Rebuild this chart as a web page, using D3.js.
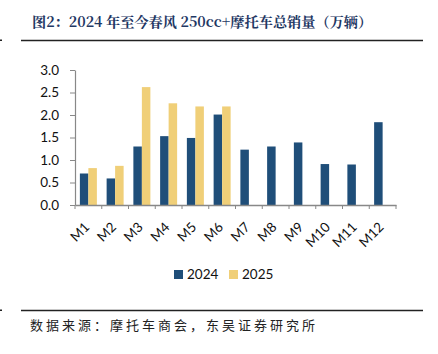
<!DOCTYPE html>
<html><head><meta charset="utf-8">
<script src="https://cdn.jsdelivr.net/npm/d3@7"></script>
<style>body{margin:0;background:#fff;} svg{display:block;}</style>
</head><body>
<script>
const categories = ["M1","M2","M3","M4","M5","M6","M7","M8","M9","M10","M11","M12"];
const seriesNames = ["2024","2025"];
const values2024 = [0.70,0.59,1.30,1.53,1.49,2.01,1.23,1.30,1.39,0.91,0.90,1.84];
const values2025 = [0.82,0.87,2.62,2.26,2.19,2.19,null,null,null,null,null,null];
const yTicks = [0,0.5,1.0,1.5,2.0,2.5,3.0];
const colors = ["#1f4e79","#f0cf78"];
const titleText = "图2：2024 年至今春风 250cc+摩托车总销量（万辆）";
const sourceText = "数据来源：摩托车商会，东吴证券研究所";

const W=438,H=354;
const svg=d3.select("body").append("svg").attr("width",W).attr("height",H);

// title & rules
svg.append("text").attr("x",32).attr("y",27).text(titleText)
  .attr("font-family","'Noto Serif CJK SC','Noto Sans CJK SC',serif").attr("font-weight","bold")
  .attr("font-size",14.2).attr("fill","#1f3864");
svg.append("line").attr("x1",21).attr("x2",423).attr("y1",40.5).attr("y2",40.5).attr("stroke","#222").attr("stroke-width",1.5);
svg.append("rect").attr("x",0).attr("y",39.5).attr("width",2).attr("height",1.5).attr("fill","#222");
svg.append("line").attr("x1",21).attr("x2",423).attr("y1",310.5).attr("y2",310.5).attr("stroke","#222").attr("stroke-width",1.5);
svg.append("rect").attr("x",0).attr("y",309.5).attr("width",2).attr("height",1.5).attr("fill","#222");
svg.append("text").attr("x",30).attr("y",330).text(sourceText)
  .attr("font-family","'Noto Sans CJK SC',sans-serif").attr("font-size",13).attr("fill","#222")
  .attr("letter-spacing","3px");

const x0=d3.scaleBand().domain(categories).range([75,396]).paddingInner(0).paddingOuter(0);
const y=d3.scaleLinear().domain([0,3]).range([205,70]);
const groupW=17;
const x1=d3.scaleBand().domain(seriesNames).range([0,groupW]);

const data=categories.map((c,i)=>({c,vals:[values2024[i],values2025[i]]}));
const g=svg.append("g");
data.forEach(d=>{
  d.vals.forEach((v,j)=>{
    if(v==null) return;
    g.append("rect")
      .attr("x",x0(d.c)+(x0.bandwidth()-groupW)/2+x1(seriesNames[j]))
      .attr("width",x1.bandwidth())
      .attr("y",y(v)).attr("height",y(0)-y(v))
      .attr("fill",colors[j]);
  });
});

const font="Lato, 'Liberation Sans', sans-serif";
// y axis
const ya=svg.append("g").attr("transform","translate(75,0)")
  .call(d3.axisLeft(y).tickValues(yTicks).tickFormat(d3.format(".1f")).tickSize(5).tickSizeOuter(0));
ya.select(".domain").attr("stroke","#888").attr("stroke-width",1.2);
ya.selectAll(".tick line").attr("stroke","#888");
ya.selectAll("text").attr("font-family",font).attr("font-size",13.5).attr("fill","#111").attr("x",-16);

// x axis
const xa=svg.append("g").attr("transform","translate(0,205)")
  .call(d3.axisBottom(x0).tickSize(0).tickSizeOuter(0));
xa.select(".domain").attr("stroke","#888").attr("stroke-width",1.5);
categories.concat([null]).forEach((c,i)=>{
  const xx = i<categories.length ? x0(c) : x0.range()[1];
  xa.append("line").attr("x1",xx).attr("x2",xx).attr("y1",0).attr("y2",4).attr("stroke","#888");
});
xa.selectAll(".tick text").attr("font-family",font).attr("font-size",13.5).attr("fill","#111")
  .attr("text-anchor","end").attr("dy",0).attr("y",0)
  .attr("transform","translate(2,23) rotate(-45)");

// legend
const leg=svg.append("g");
[[174,"2024"],[229,"2025"]].forEach(([lx,t],j)=>{
  leg.append("rect").attr("x",lx).attr("y",270).attr("width",9).attr("height",9).attr("fill",colors[j]);
  leg.append("text").attr("x",lx+13).attr("y",279).text(seriesNames[j])
    .attr("font-family",font).attr("font-size",13.5).attr("fill","#111");
});
</script>
</body></html>
